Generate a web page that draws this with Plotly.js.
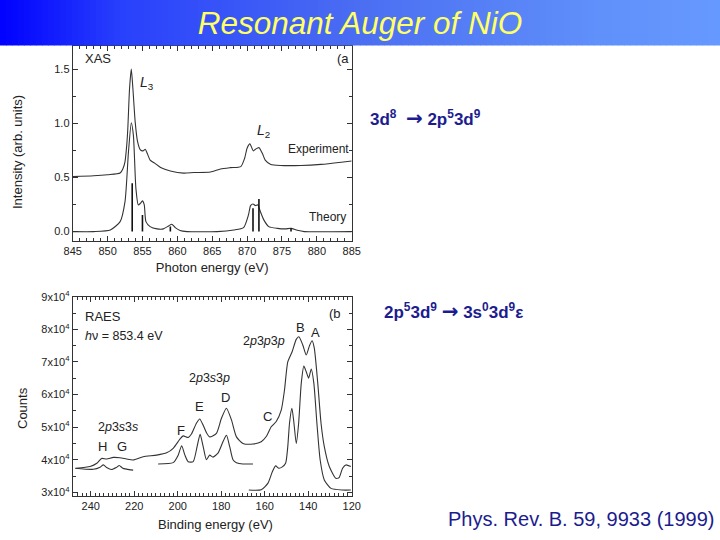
<!DOCTYPE html>
<html>
<head>
<meta charset="utf-8">
<script src="https://cdn.plot.ly/plotly-3.0.1.min.js"></script>
<style>html,body{margin:0;padding:0;background:#fff;}#chart{width:720px;height:540px;}</style>
</head>
<body>
<div id="chart"></div>
<script>
// ---- (a) XAS data ----
const xasExpE = [845, 848, 850, 851.8, 852.2, 852.5, 852.75, 852.9, 853.15, 853.4, 853.63, 853.96, 854.3, 854.7, 855.07, 855.4, 855.7, 856.1, 856.8, 857.6, 859, 860.9, 862.35, 864.75, 866.2, 867.6, 869.1, 869.65, 870.0, 870.4, 870.9, 871.2, 871.7, 872.2, 872.6, 873.4, 874.8, 877.7, 880.6, 883.5, 885];
const xasExpI = [0.507, 0.515, 0.525, 0.54, 0.58, 0.646, 0.80, 0.95, 1.32, 1.50, 1.32, 1.01, 0.83, 0.754, 0.745, 0.76, 0.72, 0.66, 0.63, 0.592, 0.56, 0.54, 0.545, 0.55, 0.578, 0.59, 0.60, 0.677, 0.77, 0.81, 0.745, 0.76, 0.775, 0.72, 0.66, 0.62, 0.61, 0.61, 0.62, 0.64, 0.652];
const xasThE = [845, 848, 850.4, 851.8, 852.5, 853.0, 853.4, 853.7, 854.06, 854.4, 854.7, 855.0, 855.26, 855.5, 856.1, 857.1, 858.0, 858.75, 859.2, 859.7, 860.4, 861.4, 865.7, 868.1, 869.5, 870.2, 870.5, 870.85, 871.2, 871.55, 871.9, 872.4, 873.1, 874.35, 875.5, 876.3, 877.2, 878.2, 885];
const xasThI = [0, 0, 0.015, 0.092, 0.277, 0.74, 1.005, 0.89, 0.40, 0.246, 0.26, 0.283, 0.246, 0.092, 0.046, 0.025, 0.025, 0.052, 0.068, 0.037, 0.01, 0, 0, 0.015, 0.037, 0.154, 0.24, 0.255, 0.24, 0.246, 0.185, 0.108, 0.046, 0.03, 0.025, 0.03, 0.012, 0, 0];
const stickE = [853.53, 855.0, 859.0, 870.85, 871.7, 876.3];
const stickH = [0.446, 0.154, 0.046, 0.215, 0.30, 0.03];
const xasXTicks = [845, 850, 855, 860, 865, 870, 875, 880, 885];
const xasYTicks = [0, 0.5, 1.0, 1.5];

// ---- (b) RAES data ----
const raesExpBE = [246.7, 240.3, 237.2, 235, 232.7, 229.6, 226.6, 223.5, 220.5, 215.9, 209.7, 205.1, 202.1, 199, 197.5, 195.2, 193.7, 191.4, 189.9, 188.3, 186.8, 185.3, 182.2, 179.9, 177.6, 175.3, 173, 170, 165.4, 161.6, 159.3, 157, 154.7, 152.4, 150.9, 149.4, 147.4, 145.5, 144.3, 142.5, 140.9, 139.4, 138.2, 137.2, 135.6, 134.1, 132.6, 130.3, 127.3, 125.8, 124.2, 122.7, 120.4];
const raesExpC = [37360, 37900, 38900, 40400, 40200, 40700, 40600, 40200, 39900, 40900, 41400, 42100, 43500, 46300, 47300, 46800, 47900, 51200, 52500, 50600, 48300, 47000, 48100, 52700, 55800, 52200, 47000, 45000, 44800, 45500, 47100, 50100, 51700, 55200, 61400, 70000, 73100, 76900, 77700, 75200, 72100, 75000, 76500, 74200, 63400, 51200, 44000, 37900, 34300, 34500, 37400, 38400, 37900];
const raesTh1BE = [247.2, 238.8, 235.7, 234.2, 232.7, 230.4, 228.1, 226.9, 225.3, 223.5, 220.5];
const raesTh1C = [37400, 37050, 37700, 38400, 37600, 37000, 37700, 38200, 37400, 37100, 36800];
const raesTh2BE = [209, 202.1, 199.8, 198.2, 196.7, 195.2, 192.9, 191.1, 189.7, 188.3, 186.8, 185.3, 183.8, 181.5, 179.2, 177.6, 176.1, 174.6, 173, 170, 165.4];
const raesTh2C = [38700, 39100, 41400, 44300, 41400, 39400, 39400, 44000, 47800, 44000, 40000, 41400, 40800, 42000, 45500, 47500, 44000, 40000, 39100, 38700, 38700];
const raesTh3BE = [167.3, 161.6, 158.5, 156.5, 155, 153.5, 151.9, 150.4, 149.4, 148.6, 147.5, 146.6, 145.5, 144.4, 143.2, 142, 140.9, 139.8, 138.6, 137.4, 136, 134.5, 132.6, 129.5, 124.2, 120.4];
const raesTh3C = [30700, 30800, 32800, 36300, 38100, 37400, 37800, 38900, 44000, 51200, 55800, 51500, 45000, 51200, 63400, 68700, 67000, 65000, 67800, 63400, 51200, 39900, 33800, 31200, 30700, 30700];
const raesXTicks = [240, 220, 200, 180, 160, 140, 120];
const raesYTicks = [30000, 40000, 50000, 60000, 70000, 80000, 90000];
const raesYTickText = ['3x10<sup>4</sup>', '4x10<sup>4</sup>', '5x10<sup>4</sup>', '6x10<sup>4</sup>', '7x10<sup>4</sup>', '8x10<sup>4</sup>', '9x10<sup>4</sup>'];

// ---- styling ----
const lineCol = '#333333';
const FONT = 'Liberation Sans, Arial, Helvetica, sans-serif';
const W = 720, H = 540;
const px2x = p => p / W;
const px2y = p => 1 - p / H;

const curve = (x, y, xa, ya) => ({
  x: x, y: y, xaxis: xa, yaxis: ya, type: 'scatter', mode: 'lines',
  line: {color: lineCol, width: 1.1, shape: 'spline', smoothing: 0.6},
  hoverinfo: 'skip', showlegend: false
});

// theory sticks as vertical segments built from the stick arrays
const stickX = stickE.flatMap(e => [e, e, null]);
const stickY = stickH.flatMap(h => [0, h, null]);

const traces = [
  curve(xasExpE, xasExpI, 'x', 'y'),
  curve(xasThE, xasThI, 'x', 'y'),
  {x: stickX, y: stickY, xaxis: 'x', yaxis: 'y', type: 'scatter', mode: 'lines',
   line: {color: '#111', width: 1.6}, connectgaps: false, hoverinfo: 'skip', showlegend: false},
  curve(raesExpBE, raesExpC, 'x2', 'y2'),
  curve(raesTh1BE, raesTh1C, 'x2', 'y2'),
  curve(raesTh2BE, raesTh2C, 'x2', 'y2'),
  curve(raesTh3BE, raesTh3C, 'x2', 'y2')
];

// banner gradient strips
const stops = [[0, [0, 0, 255]], [120, [40, 64, 252]], [360, [75, 110, 242]], [600, [96, 144, 250]], [720, [102, 153, 255]]];
function gradColor(x) {
  for (let i = 0; i < stops.length - 1; i++) {
    const [x0, c0] = stops[i], [x1, c1] = stops[i + 1];
    if (x >= x0 && x <= x1) {
      const t = (x - x0) / (x1 - x0);
      return 'rgb(' + c0.map((v, k) => Math.round(v + (c1[k] - v) * t)).join(',') + ')';
    }
  }
  return 'rgb(102,153,255)';
}
const shapes = [];
const strip = 6;
for (let px = 0; px < W; px += strip) {
  shapes.push({type: 'rect', xref: 'paper', yref: 'paper', layer: 'above',
    x0: px2x(px), x1: px2x(px + strip + 0.5), y0: px2y(45.5), y1: 1,
    fillcolor: gradColor(px + strip / 2), line: {width: 0}});
}

const tickFont = {family: FONT, size: 11, color: '#222'};
const axTitleFont = {family: FONT, size: 13, color: '#222'};
const baseAx = {showline: true, linecolor: lineCol, linewidth: 1, mirror: 'ticks',
  ticks: 'inside', ticklen: 5, tickcolor: lineCol, showgrid: false, zeroline: false,
  tickfont: tickFont};

const ann = (text, x, y, xr, yr, size, extra) => Object.assign({
  text: text, x: x, y: y, xref: xr, yref: yr, showarrow: false,
  font: {family: FONT, size: size, color: '#222'}, xanchor: 'center', yanchor: 'middle'
}, extra || {});

const navy = '#1c1c8f';
const arrow = '<span style="font-family:DejaVu Sans;font-size:20px">→</span>';
const annotations = [
  ann('XAS', 848.6, 1.593, 'x', 'y', 13),
  ann('<i>L</i><sub>3</sub>', 855.7, 1.37, 'x', 'y', 14),
  ann('(a', 883.7, 1.60, 'x', 'y', 13),
  ann('<i>L</i><sub>2</sub>', 872.4, 0.93, 'x', 'y', 14),
  ann('Experiment', 880.3, 0.76, 'x', 'y', 12),
  ann('Theory', 881.6, 0.136, 'x', 'y', 12),
  ann('RAES', 234.4, 84080, 'x2', 'y2', 13),
  ann('<i>h</i>ν = 853.4 eV', 224.7, 77950, 'x2', 'y2', 12.5),
  ann('(b', 127.5, 85000, 'x2', 'y2', 13),
  ann('B', 143.5, 80700, 'x2', 'y2', 13),
  ann('A', 136.6, 79170, 'x2', 'y2', 13),
  ann('2<i>p</i>3<i>p</i>3<i>p</i>', 160.5, 76400, 'x2', 'y2', 12.5),
  ann('2<i>p</i>3<i>s</i>3<i>p</i>', 185.3, 65060, 'x2', 'y2', 12.5),
  ann('E', 189.9, 56170, 'x2', 'y2', 13),
  ann('D', 177.9, 58930, 'x2', 'y2', 13),
  ann('C', 158.6, 53400, 'x2', 'y2', 13),
  ann('F', 198.6, 49100, 'x2', 'y2', 13),
  ann('2<i>p</i>3<i>s</i>3<i>s</i>', 227.5, 50030, 'x2', 'y2', 12.5),
  ann('H', 234.4, 43900, 'x2', 'y2', 13),
  ann('G', 225.6, 43900, 'x2', 'y2', 13),
  // axis titles placed exactly
  ann('Intensity (arb. units)', px2x(18), px2y(152), 'paper', 'paper', 13, {textangle: -90}),
  ann('Counts', px2x(22), px2y(408), 'paper', 'paper', 13, {textangle: -90}),
  ann('Binding energy (eV)', px2x(215), px2y(524), 'paper', 'paper', 13),
  {text: '<b>3d<sup>8</sup>  ' + arrow + ' 2p<sup>5</sup>3d<sup>9</sup></b>', x: px2x(368), y: px2y(118), xref: 'paper', yref: 'paper',
   showarrow: false, xanchor: 'left', yanchor: 'middle', font: {family: FONT, size: 17, color: navy}},
  {text: '<b>2p<sup>5</sup>3d<sup>9</sup> ' + arrow + ' 3s<sup>0</sup>3d<sup>9</sup>ε</b>', x: px2x(382), y: px2y(311), xref: 'paper', yref: 'paper',
   showarrow: false, xanchor: 'left', yanchor: 'middle', font: {family: FONT, size: 17, color: navy}},
  {text: 'Phys. Rev. B. 59, 9933 (1999)', x: px2x(446), y: px2y(519), xref: 'paper', yref: 'paper',
   showarrow: false, xanchor: 'left', yanchor: 'middle', font: {family: FONT, size: 20, color: navy}}
];

const layout = {
  width: W, height: H, autosize: false,
  margin: {l: 0, r: 0, t: 0, b: 0, pad: 0},
  paper_bgcolor: '#ffffff', plot_bgcolor: 'rgba(0,0,0,0)',
  showlegend: false,
  title: {text: '<i>Resonant Auger of NiO</i>', x: 0.5, xanchor: 'center', y: px2y(23), yanchor: 'middle',
          font: {family: FONT, size: 31.5, color: '#ffff66'}},
  xaxis: Object.assign({}, baseAx, {domain: [px2x(72.7), px2x(351.7)], range: [845, 885], anchor: 'y',
    tickvals: xasXTicks, minor: {dtick: 1, ticks: 'inside', ticklen: 3, tickcolor: lineCol},
    title: {text: 'Photon energy (eV)', font: axTitleFont, standoff: 6}}),
  yaxis: Object.assign({}, baseAx, {domain: [px2y(241), px2y(46)], range: [-0.087, 1.713], anchor: 'x',
    tickvals: xasYTicks, tickformat: '.1f', minor: {dtick: 0.25, ticks: 'inside', ticklen: 3, tickcolor: lineCol}}),
  xaxis2: Object.assign({}, baseAx, {domain: [px2x(72.7), px2x(351.7)], range: [248.3, 120], anchor: 'y2',
    tickvals: raesXTicks, minor: {dtick: 2, ticks: 'inside', ticklen: 3, tickcolor: lineCol}}),
  yaxis2: Object.assign({}, baseAx, {domain: [px2y(496), px2y(296.7)], range: [28865, 90000], anchor: 'x2',
    tickvals: raesYTicks, ticktext: raesYTickText, minor: {dtick: 5000, ticks: 'inside', ticklen: 3, tickcolor: lineCol}}),
  shapes: shapes,
  annotations: annotations
};

Plotly.newPlot('chart', traces, layout, {staticPlot: true, displayModeBar: false});
</script>
</body>
</html>
